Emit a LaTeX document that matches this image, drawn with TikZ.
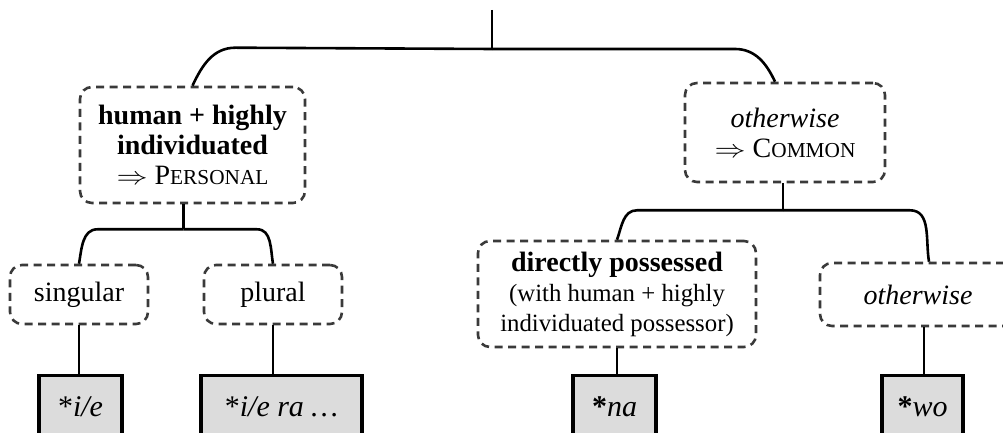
\documentclass[tikz,border=0pt]{standalone}
\usepackage{fontspec}
\setmainfont{Liberation Serif}
\definecolor{dashgray}{HTML}{3A3A3A}
\definecolor{leafgray}{HTML}{DCDCDC}
\newcommand\fakesc[2]{#1{\fontsize{21.3}{21.3}\selectfont #2}}
\newcommand\impl{\scalebox{1.25}[1]{$\Rightarrow$}}
\begin{document}
\begin{tikzpicture}[x=1pt,y=1pt,
		cond/.style={draw=dashgray,line width=2.6pt,dash pattern=on 8pt off 5.5pt,rounded corners=12pt,align=center,inner sep=0pt,font=\fontsize{28}{30}\selectfont},
		leaf/.style={draw,line width=3.5pt,fill=leafgray,minimum height=62pt,inner sep=0pt,anchor=north,font=\fontsize{30}{30}\selectfont},
		branch/.style={line width=2.6pt}]
	\useasboundingbox (0,0) rectangle (1003,433);
	\coordinate (top) at (492,423);
	\coordinate (j0) at (492,384);
	\node[cond,minimum width=225pt,minimum height=116pt] (pers) at (192.5,288) {\textbf{human + highly}\\ \textbf{individuated}\\ \impl\ \fakesc{P}{ERSONAL}};
	\node[cond,minimum width=200pt,minimum height=99pt] (comm) at (785,300.5) {\textit{otherwise}\\ \impl\ \fakesc{C}{OMMON}};
	\node[cond,minimum width=138pt,minimum height=59pt] (sg) at (79,138.5) {singular};
	\node[cond,minimum width=138pt,minimum height=59pt] (pl) at (273,138.5) {plural};
	\node[cond,minimum width=278pt,minimum height=106pt] (dp) at (617,139) {\textbf{directly possessed}\\ {\fontsize{24.8}{26.7}\selectfont (with human + highly}\\ {\fontsize{24.8}{26.7}\selectfont individuated possessor)}};
	\node[cond,minimum width=196pt,minimum height=63pt] (ow) at (918,138.5) {\textit{otherwise}};
	\node[leaf,minimum width=83pt] (ie) at (80.5,59) {*\textit{i/e}};
	\node[leaf,minimum width=161pt] (iera) at (281.5,59) {*\textit{i/e ra \dots}};
	\node[leaf,minimum width=83pt] (na) at (614.5,59) {\textbf{*}\textit{na}};
	\node[leaf,minimum width=81pt] (wo) at (922.5,59) {\textbf{*}\textit{wo}};
	\coordinate (j1) at ([xshift=-9pt,yshift=-25pt]pers.south);
	\coordinate (j2) at ([xshift=-2pt,yshift=-27pt]comm.south);
	% top split
	\draw[branch] (top) -- (j0);
	\draw[branch] (pers.north) to[out=65,in=180] ++(43,38) -- (j0);
	\draw[branch] (j0) -- ++(243,0) to[out=0,in=115] ([xshift=-10pt]comm.north);
	% personal side
	\draw[branch] ([xshift=-9pt]pers.south) -- (j1);
	\draw[branch] (j1) -- ++(-86,0) to[out=180,in=80] (sg.north);
	\draw[branch] (j1) -- ++(73.5,0) to[out=0,in=100] (pl.north);
	\draw[branch] (sg.south) -- (sg.south |- ie.north);
	\draw[branch] (pl.south) -- (pl.south |- iera.north);
	% common side
	\draw[branch] ([xshift=-2pt]comm.south) -- (j2);
	\draw[branch] (j2) -- ++(-146,0) to[out=180,in=70] (dp.north);
	\draw[branch] (j2) -- ++(127,0) to[out=0,in=100] ([xshift=11pt]ow.north);
	\draw[branch] (dp.south) -- (dp.south |- na.north);
	\draw[branch] ([xshift=6pt]ow.south) -- ([xshift=6pt]ow.south |- wo.north);
\end{tikzpicture}
\end{document}
